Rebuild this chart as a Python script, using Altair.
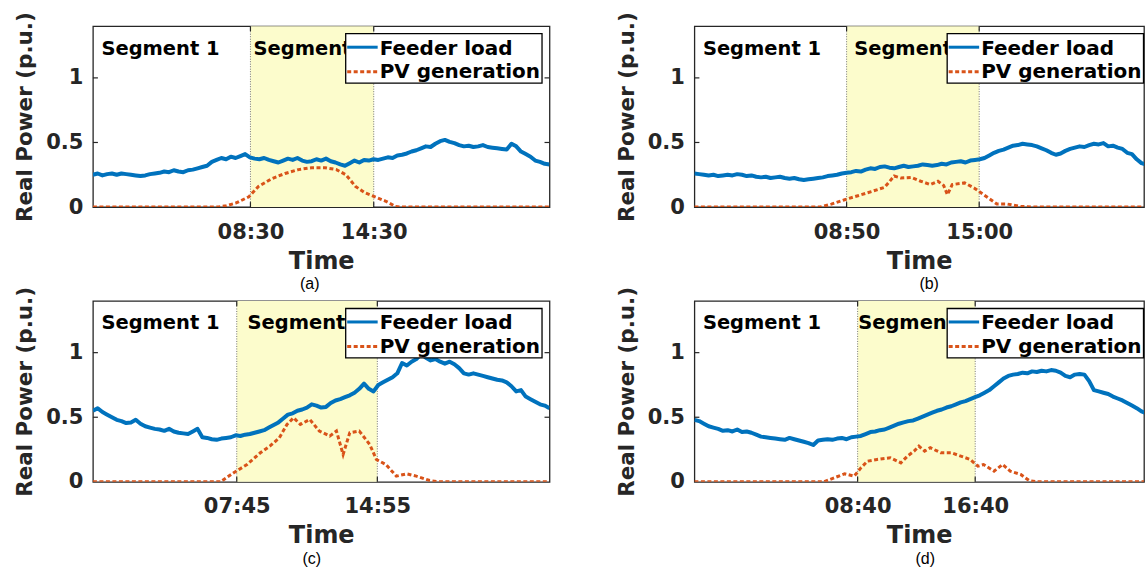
import altair as alt
import pandas as pd

# time grid (hours) for the feeder-load series
HOURS = [i * 0.25 for i in range(97)]

LOAD_A = [0.25, 0.26, 0.245, 0.255, 0.26, 0.25, 0.26, 0.255, 0.25, 0.245, 0.24, 0.245, 0.255, 0.26, 0.265, 0.275,
          0.27, 0.285, 0.275, 0.27, 0.285, 0.29, 0.30, 0.31, 0.32, 0.35, 0.365, 0.38, 0.37, 0.39, 0.38, 0.395,
          0.41, 0.385, 0.375, 0.37, 0.38, 0.365, 0.355, 0.345, 0.36, 0.375, 0.365, 0.38, 0.36, 0.35, 0.355, 0.37,
          0.36, 0.375, 0.355, 0.345, 0.33, 0.32, 0.34, 0.36, 0.345, 0.365, 0.36, 0.37, 0.365, 0.375, 0.385, 0.38,
          0.40, 0.405, 0.415, 0.43, 0.44, 0.455, 0.47, 0.465, 0.49, 0.51, 0.52, 0.505, 0.495, 0.48, 0.47, 0.475,
          0.465, 0.47, 0.48, 0.465, 0.46, 0.455, 0.45, 0.445, 0.49, 0.47, 0.43, 0.41, 0.39, 0.36, 0.35, 0.335,
          0.33]
LOAD_B = [0.26, 0.255, 0.25, 0.245, 0.25, 0.24, 0.245, 0.25, 0.245, 0.255, 0.25, 0.24, 0.245, 0.235, 0.23, 0.235,
          0.225, 0.23, 0.235, 0.225, 0.22, 0.225, 0.215, 0.21, 0.215, 0.22, 0.225, 0.23, 0.24, 0.245, 0.25, 0.26,
          0.265, 0.27, 0.28, 0.275, 0.29, 0.30, 0.295, 0.31, 0.315, 0.305, 0.30, 0.31, 0.32, 0.31, 0.315, 0.32,
          0.33, 0.325, 0.32, 0.325, 0.335, 0.33, 0.345, 0.35, 0.355, 0.345, 0.36, 0.365, 0.37, 0.38, 0.40, 0.42,
          0.435, 0.445, 0.46, 0.475, 0.48, 0.49, 0.485, 0.48, 0.47, 0.455, 0.44, 0.42, 0.405, 0.415, 0.435, 0.45,
          0.46, 0.47, 0.465, 0.48, 0.49, 0.485, 0.495, 0.47, 0.475, 0.46, 0.45, 0.42, 0.41, 0.37, 0.34, 0.33,
          0.32]
LOAD_C = [0.55, 0.57, 0.54, 0.52, 0.50, 0.48, 0.47, 0.455, 0.46, 0.48, 0.45, 0.43, 0.42, 0.41, 0.405, 0.395,
          0.41, 0.39, 0.38, 0.375, 0.37, 0.39, 0.41, 0.345, 0.34, 0.33, 0.325, 0.335, 0.34, 0.345, 0.36, 0.355,
          0.365, 0.37, 0.38, 0.39, 0.40, 0.42, 0.44, 0.46, 0.49, 0.52, 0.53, 0.55, 0.56, 0.575, 0.60, 0.59,
          0.575, 0.58, 0.61, 0.63, 0.64, 0.655, 0.67, 0.69, 0.72, 0.76, 0.72, 0.70, 0.75, 0.77, 0.79, 0.81,
          0.84, 0.92, 0.90, 0.93, 0.95, 0.99, 0.96, 0.94, 0.95, 0.93, 0.915, 0.93, 0.91, 0.88, 0.84, 0.83,
          0.84, 0.83, 0.82, 0.81, 0.80, 0.79, 0.785, 0.77, 0.74, 0.70, 0.71, 0.66, 0.64, 0.62, 0.60, 0.59,
          0.57]
LOAD_D = [0.48, 0.47, 0.45, 0.43, 0.42, 0.41, 0.395, 0.40, 0.39, 0.405, 0.385, 0.39, 0.38, 0.365, 0.35, 0.345,
          0.34, 0.335, 0.33, 0.325, 0.34, 0.33, 0.32, 0.31, 0.30, 0.285, 0.32, 0.325, 0.33, 0.325, 0.335, 0.34,
          0.33, 0.345, 0.35, 0.355, 0.37, 0.385, 0.39, 0.40, 0.405, 0.42, 0.435, 0.45, 0.46, 0.47, 0.475, 0.49,
          0.505, 0.52, 0.535, 0.55, 0.56, 0.575, 0.585, 0.60, 0.615, 0.625, 0.64, 0.655, 0.67, 0.69, 0.71, 0.74,
          0.77, 0.80, 0.82, 0.83, 0.835, 0.845, 0.84, 0.855, 0.85, 0.86, 0.855, 0.865, 0.86, 0.845, 0.82, 0.81,
          0.83, 0.835, 0.83, 0.78, 0.71, 0.70, 0.69, 0.68, 0.66, 0.645, 0.63, 0.61, 0.59, 0.57, 0.545, 0.53,
          0.52]

PV_A_H = [0, 6.6, 7.0, 7.5, 8.2, 8.7, 9.4, 10.1, 10.8, 11.5, 12.2, 12.8, 13.3, 13.8, 14.3, 14.9, 15.4, 15.9, 16.2, 24]
PV_A_V = [0, 0, 0.01, 0.03, 0.08, 0.16, 0.22, 0.26, 0.29, 0.305, 0.305, 0.29, 0.25, 0.16, 0.11, 0.075, 0.045, 0.005, 0, 0]
PV_B_H = [0, 6.6, 7.2, 7.9, 8.6, 9.3, 10.0, 10.5, 10.85, 11.4, 11.9, 12.4, 12.8, 13.1, 13.3, 13.55, 14.2, 14.7,
          15.2, 15.9, 16.45, 17.15, 17.85, 24]
PV_B_V = [0, 0, 0.023, 0.057, 0.088, 0.12, 0.153, 0.24, 0.225, 0.23, 0.2, 0.174, 0.2, 0.168, 0.096, 0.174, 0.187,
          0.148, 0.096, 0.023, 0.023, 0.005, 0, 0]
PV_C_H = [0, 6.7, 7.4, 8.1, 8.8, 9.3, 9.8, 10.2, 10.55, 10.9, 11.4, 11.9, 12.45, 12.8, 13.15, 13.5, 14.0, 14.55,
          14.9, 15.4, 15.95, 16.5, 17.0, 17.7, 18.2, 24]
PV_C_V = [0, 0, 0.07, 0.134, 0.225, 0.276, 0.341, 0.444, 0.496, 0.444, 0.483, 0.393, 0.354, 0.393, 0.212, 0.38,
          0.393, 0.289, 0.173, 0.134, 0.044, 0.062, 0.044, 0.01, 0, 0]
PV_D_H = [0, 6.8, 7.35, 7.9, 8.4, 8.75, 9.1, 9.6, 10.3, 10.85, 11.2, 11.55, 11.8, 12.1, 12.4, 12.95, 13.5, 14.0,
          14.5, 14.9, 15.2, 15.75, 16.2, 16.6, 17.15, 17.6, 18.0, 24]
PV_D_V = [0, 0, 0.031, 0.062, 0.044, 0.108, 0.16, 0.173, 0.186, 0.147, 0.199, 0.238, 0.276, 0.238, 0.264, 0.225,
          0.225, 0.199, 0.173, 0.121, 0.134, 0.083, 0.134, 0.083, 0.057, 0.01, 0, 0]

BND_A = [8.28, 14.76]
BND_B = [8.0, 14.97]
BND_C = [7.56, 14.95]
BND_D = [8.58, 14.76]
TICKS_A = ["08:30", "14:30"]
TICKS_B = ["08:50", "15:00"]
TICKS_C = ["07:45", "14:55"]
TICKS_D = ["08:40", "16:40"]
SEG2_A, SEG2_B, SEG2_C, SEG2_D = 8.44, 8.40, 8.13, 8.61
SERIES = ["Feeder load", "PV generation"]
SEG_LABELS = ["Segment 1", "Segment 2"]

H = 181
FULL_W = 457
FONT = "DejaVu Sans"
DARK = "#262626"
BLUE = "#0072BD"
ORANGE = "#D95319"
DASH = [4, 2.5]


def panel(load, pv_h, pv_v, bnd, ticks, seg2, sub, sub_x, width, right_ticks):
    xmax = 24 * width / FULL_W
    xsc = alt.Scale(domain=[0, xmax], nice=False, zero=False)
    ysc = alt.Scale(domain=[0, 1.4], nice=False, zero=False)
    mid = (bnd[0] + bnd[1]) / 2
    xaxis = alt.Axis(values=bnd, labelExpr=f"datum.value < {mid} ? '{ticks[0]}' : '{ticks[1]}'",
                     title="Time", ticks=False, domain=False, grid=False, labelPadding=14, titlePadding=7,
                     labelFont=FONT, labelFontWeight="bold", labelFontSize=21, labelColor=DARK,
                     labelFlush=False, labelOverlap=False,
                     titleFont=FONT, titleFontWeight="bold", titleFontSize=24, titleColor=DARK)
    yaxis = alt.Axis(values=[0, 0.5, 1], format="~g", title="Real Power (p.u.)", ticks=False, domain=False,
                     grid=False, labelPadding=10, titlePadding=9,
                     labelFont=FONT, labelFontWeight="bold", labelFontSize=21, labelColor=DARK,
                     labelFlush=False, labelOverlap=False,
                     titleFont=FONT, titleFontWeight="bold", titleFontSize=21.5, titleColor=DARK)

    def X(f):
        return alt.X(f, type="quantitative", scale=xsc, axis=xaxis)

    def Y(f):
        return alt.Y(f, type="quantitative", scale=ysc, axis=yaxis)

    load_df = pd.DataFrame({"h": HOURS, "p": load})
    pv_df = pd.DataFrame({"h": pv_h, "p": pv_v})
    seg_df = pd.DataFrame({"b0": [bnd[0]], "b1": [bnd[1]], "s": [seg2]})
    bnd_df = pd.DataFrame({"b": bnd})
    ytick_df = pd.DataFrame({"v": [0.5, 1.0]})
    one = pd.DataFrame({"k": [0]})

    shade = alt.Chart(seg_df).mark_rect(color="#fcfccc").encode(
        x=X("b0"), x2="b1", y=alt.value(0), y2=alt.value(H))
    vlines = alt.Chart(bnd_df).mark_rule(color="#666666", strokeWidth=0.9, strokeDash=[1, 1.5]).encode(
        x=X("b"), y=alt.value(0), y2=alt.value(H))
    xt_bot = alt.Chart(bnd_df).mark_rule(color=DARK, strokeWidth=1.2).encode(
        x=X("b"), y=alt.value(H), y2=alt.value(H - 5))
    xt_top = alt.Chart(bnd_df).mark_rule(color=DARK, strokeWidth=1.2).encode(
        x=X("b"), y=alt.value(0), y2=alt.value(5))
    yt_left = alt.Chart(ytick_df).mark_rule(color=DARK, strokeWidth=1.2).encode(
        y=Y("v"), x=alt.value(0), x2=alt.value(5))
    load_line = alt.Chart(load_df).mark_line(color=BLUE, strokeWidth=4, clip=True,
                                             strokeJoin="round").encode(
        x=X("h"), y=Y("p"))
    pv_line = alt.Chart(pv_df).mark_line(color=ORANGE, strokeWidth=3, strokeDash=DASH, clip=True).encode(
        x=X("h"), y=Y("p"))
    seg1 = alt.Chart(one).mark_text(align="left", baseline="alphabetic", font=FONT, fontWeight="bold",
                                    fontSize=19.5, color="black").encode(
        x=alt.value(8.5), y=alt.value(28.3), text=alt.value(SEG_LABELS[0]))
    seg2t = alt.Chart(seg_df).mark_text(align="left", baseline="alphabetic", font=FONT, fontWeight="bold",
                                        fontSize=19.5, color="black").encode(
        x=X("s"), y=alt.value(28.3), text=alt.value(SEG_LABELS[1]))
    leg_box = alt.Chart(one).mark_rect(fill="white", stroke="black", strokeWidth=1.3).encode(
        x=alt.value(253), x2=alt.value(449.5), y=alt.value(7.5), y2=alt.value(57))
    leg_l1 = alt.Chart(one).mark_rule(color=BLUE, strokeWidth=3).encode(
        x=alt.value(254.5), x2=alt.value(285), y=alt.value(21))
    leg_l2 = alt.Chart(one).mark_rule(color=ORANGE, strokeWidth=3, strokeDash=DASH).encode(
        x=alt.value(254.5), x2=alt.value(285), y=alt.value(45.5))
    leg_t1 = alt.Chart(one).mark_text(align="left", baseline="alphabetic", font=FONT, fontWeight="bold",
                                      fontSize=20, color="black").encode(
        x=alt.value(287), y=alt.value(28.3), text=alt.value(SERIES[0]))
    leg_t2 = alt.Chart(one).mark_text(align="left", baseline="alphabetic", font=FONT, fontWeight="bold",
                                      fontSize=20, color="black").encode(
        x=alt.value(287), y=alt.value(52.3), text=alt.value(SERIES[1]))
    sub_t = alt.Chart(one).mark_text(align="center", baseline="middle", font="Liberation Sans",
                                     fontSize=16, color="black").encode(
        x=alt.value(sub_x), y=alt.value(258), text=alt.value(sub))

    layers = [shade, vlines, xt_bot, xt_top, yt_left]
    if right_ticks:
        yt_right = alt.Chart(ytick_df).mark_rule(color=DARK, strokeWidth=1.2).encode(
            y=Y("v"), x=alt.value(width - 5), x2=alt.value(width))
        layers.append(yt_right)
    layers += [load_line, pv_line, seg1, seg2t, leg_box, leg_l1, leg_l2, leg_t1, leg_t2, sub_t]
    return alt.layer(*layers).properties(width=width, height=H)


pa = panel(LOAD_A, PV_A_H, PV_A_V, BND_A, TICKS_A, SEG2_A, "(a)", 217, 457, True)
pb = panel(LOAD_B, PV_B_H, PV_B_V, BND_B, TICKS_B, SEG2_B, "(b)", 235, 450, False)
pc = panel(LOAD_C, PV_C_H, PV_C_V, BND_C, TICKS_C, SEG2_C, "(c)", 219, 457, True)
pd_ = panel(LOAD_D, PV_D_H, PV_D_V, BND_D, TICKS_D, SEG2_D, "(d)", 231, 450, False)

chart = alt.concat(pa, pb, pc, pd_, columns=2, spacing={"row": 94, "column": 145},
                   bounds="flush", align="each").properties(
    padding={"left": 14, "top": 10, "right": 0, "bottom": 0},
    background="white",
).configure_view(stroke=DARK, strokeWidth=1.3)

chart.save("out.html", embed_options={"renderer": "svg", "actions": False})
